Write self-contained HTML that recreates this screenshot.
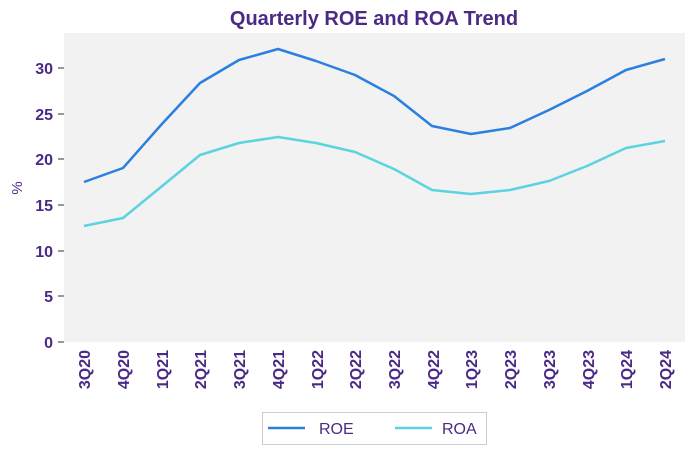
<!DOCTYPE html>
<html><head><meta charset="utf-8"><style>body{margin:0;background:#fff}svg{display:block}</style></head><body>
<svg width="694" height="455" xmlns="http://www.w3.org/2000/svg" font-family="Liberation Sans, sans-serif">
<rect x="64" y="33" width="621" height="309" fill="#f2f2f2"/>
<text x="374" y="25" text-anchor="middle" font-size="20" font-weight="bold" fill="#4b2a86">Quarterly ROE and ROA Trend</text>
<g fill="#4b2a86" font-size="16" font-weight="bold" text-anchor="end">
<text x="53" y="348">0</text><text x="53" y="302">5</text><text x="53" y="257">10</text><text x="53" y="211">15</text><text x="53" y="165">20</text><text x="53" y="120">25</text><text x="53" y="74">30</text>
</g>
<g stroke="#333" stroke-width="1"><line x1="58" y1="342" x2="64" y2="342"/><line x1="58" y1="296" x2="64" y2="296"/><line x1="58" y1="251" x2="64" y2="251"/><line x1="58" y1="205" x2="64" y2="205"/><line x1="58" y1="159" x2="64" y2="159"/><line x1="58" y1="114" x2="64" y2="114"/><line x1="58" y1="68" x2="64" y2="68"/></g>
<text transform="translate(22,188) rotate(-90)" text-anchor="middle" font-size="15" fill="#4b2a86">%</text>
<g fill="#4b2a86" font-size="16" font-weight="bold" text-anchor="end">
<text transform="translate(90,350) rotate(-90)">3Q20</text>
<text transform="translate(129,350) rotate(-90)">4Q20</text>
<text transform="translate(168,350) rotate(-90)">1Q21</text>
<text transform="translate(206,350) rotate(-90)">2Q21</text>
<text transform="translate(245,350) rotate(-90)">3Q21</text>
<text transform="translate(284,350) rotate(-90)">4Q21</text>
<text transform="translate(323,350) rotate(-90)">1Q22</text>
<text transform="translate(361,350) rotate(-90)">2Q22</text>
<text transform="translate(400,350) rotate(-90)">3Q22</text>
<text transform="translate(439,350) rotate(-90)">4Q22</text>
<text transform="translate(477,350) rotate(-90)">1Q23</text>
<text transform="translate(516,350) rotate(-90)">2Q23</text>
<text transform="translate(555,350) rotate(-90)">3Q23</text>
<text transform="translate(594,350) rotate(-90)">4Q23</text>
<text transform="translate(632,350) rotate(-90)">1Q24</text>
<text transform="translate(671,350) rotate(-90)">2Q24</text>
</g>
<polyline fill="none" stroke="#2b7fe0" stroke-width="2.5" stroke-linejoin="round" points="84,182 123,168 161,125 200,83 239,60 278,49 316,61 355,75 394,96 432,126 471,134 510,128 549,110 587,91 626,70 665,59"/>
<polyline fill="none" stroke="#5bd3e0" stroke-width="2.5" stroke-linejoin="round" points="84,226 123,218 161,187 200,155 239,143 278,137 316,143 355,152 394,169 432,190 471,194 510,190 549,181 587,166 626,148 665,141"/>
<rect x="262.5" y="412.5" width="224" height="32" fill="#fff" stroke="#ccc"/>
<line x1="268" y1="428" x2="305" y2="428" stroke="#2b7fe0" stroke-width="2.5"/>
<text x="319" y="434" font-size="16" fill="#4b2a86">ROE</text>
<line x1="395" y1="428" x2="432" y2="428" stroke="#5bd3e0" stroke-width="2.5"/>
<text x="442" y="434" font-size="16" fill="#4b2a86">ROA</text>
</svg>
</body></html>
